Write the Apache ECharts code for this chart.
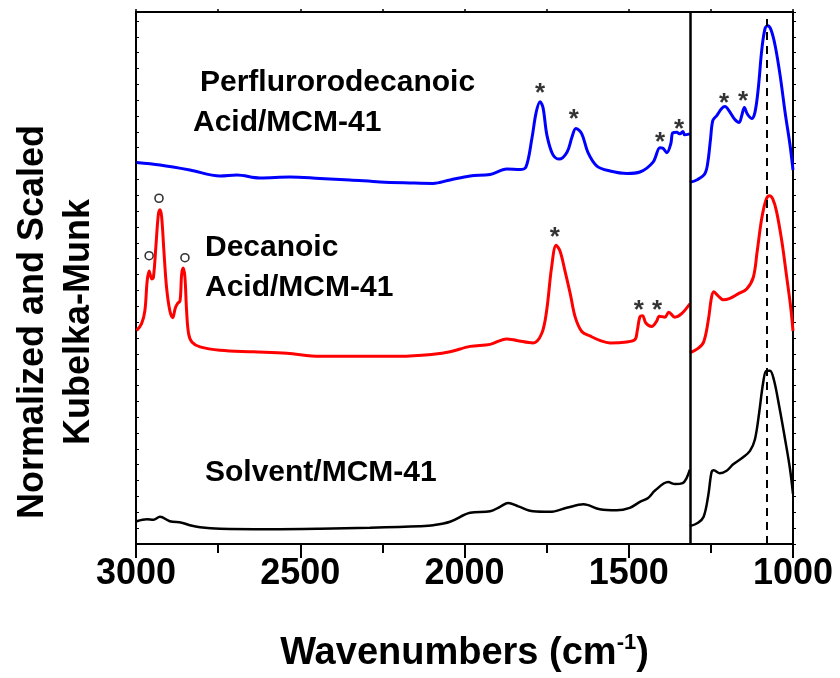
<!DOCTYPE html>
<html>
<head>
<meta charset="utf-8">
<script src="https://cdn.jsdelivr.net/npm/echarts@6/dist/echarts.min.js"></script>
<style>
  html, body { margin: 0; padding: 0; background: #fff; }
  #chart { width: 840px; height: 678px; }
</style>
</head>
<body>
<div id="chart"></div>
<script>
// wavenumber (cm-1), normalized + scaled Kubelka-Munk (arbitrary units)
// left panel 3000-1314, right panel 1314-1000 (scaled separately)
const perfluoroLeft = [[2998,77.0],[2927,76.5],[2836,75.5],[2744,74.3],[2693,74.5],[2623,73.9],[2531,74.1],[2440,73.8],[2349,73.5],[2257,73.1],[2166,72.9],[2096,72.8],[2044,73.5],[1983,74.3],[1922,74.6],[1871,75.7],[1831,75.6],[1813,76.1],[1795,81.8],[1782,87.1],[1770,89.3],[1761,88.1],[1749,82.5],[1731,78.6],[1712,77.7],[1688,79.1],[1673,82.1],[1661,83.9],[1643,82.8],[1624,79.0],[1597,76.3],[1557,75.3],[1505,74.8],[1466,75.1],[1426,77.1],[1405,80.0],[1396,79.9],[1384,79.0],[1372,80.8],[1366,83.0],[1354,83.1],[1344,82.8],[1335,83.3],[1330,82.6],[1314,82.8]];
const perfluoroRight = [[1314,73.0],[1290,73.6],[1268,74.8],[1259,77.2],[1251,81.8],[1244,85.5],[1232,86.5],[1217,87.9],[1207,88.3],[1195,87.5],[1177,85.7],[1164,85.1],[1156,86.5],[1148,88.1],[1139,86.8],[1126,85.9],[1116,87.1],[1106,91.8],[1095,99.8],[1085,104.1],[1077,104.6],[1067,103.8],[1054,100.5],[1039,94.5],[1024,87.1],[1009,80.5],[1000,75.5]];

const decanoicLeft = [[2998,43.1],[2983,44.5],[2973,47.1],[2966,53.1],[2960,55.1],[2952,53.5],[2947,53.8],[2939,60.5],[2932,66.5],[2927,67.5],[2922,66.1],[2915,59.1],[2907,51.8],[2897,47.1],[2888,45.7],[2881,47.5],[2874,48.5],[2866,49.1],[2861,54.5],[2856,55.7],[2851,53.8],[2846,47.1],[2840,42.5],[2830,40.8],[2805,39.8],[2744,39.1],[2643,38.8],[2541,38.5],[2440,37.9],[2196,37.9],[2095,38.3],[2044,38.8],[1983,39.9],[1922,40.3],[1872,41.4],[1841,41.1],[1791,40.6],[1765,42.5],[1750,47.1],[1735,55.8],[1721,60.3],[1709,59.1],[1694,55.1],[1678,50.5],[1663,45.8],[1643,42.9],[1618,42.0],[1588,41.1],[1557,40.6],[1506,40.8],[1481,41.3],[1474,43.1],[1466,45.9],[1458,46.1],[1448,44.6],[1430,43.9],[1415,45.0],[1407,46.0],[1390,45.8],[1378,46.8],[1360,45.8],[1339,46.5],[1314,48.5]];
const decanoicRight = [[1314,38.6],[1289,39.5],[1272,40.8],[1258,45.1],[1248,49.8],[1241,50.9],[1228,50.1],[1212,49.3],[1192,49.6],[1167,50.5],[1141,51.5],[1121,53.8],[1109,59.1],[1095,65.8],[1082,69.5],[1072,70.3],[1062,69.7],[1050,67.1],[1034,61.1],[1019,53.8],[1007,47.8],[1000,43.0]];

const solventLeft = [[2998,4.6],[2967,5.0],[2947,4.9],[2927,5.5],[2897,4.6],[2861,4.3],[2836,3.8],[2805,3.4],[2744,3.1],[2592,3.0],[2440,3.1],[2288,3.3],[2136,3.6],[2095,3.8],[2044,4.5],[1983,6.3],[1922,6.6],[1892,7.5],[1867,8.3],[1836,7.6],[1791,6.6],[1740,6.5],[1689,7.3],[1638,8.0],[1588,7.0],[1537,6.8],[1497,7.3],[1466,8.5],[1441,9.3],[1420,10.8],[1380,12.5],[1359,12.1],[1336,12.3],[1324,13.3],[1314,15.0]];
const solventRight = [[1314,3.6],[1289,4.3],[1272,5.5],[1258,9.8],[1248,14.5],[1241,14.9],[1223,14.3],[1202,14.8],[1182,16.1],[1152,17.5],[1131,18.8],[1116,21.1],[1103,26.5],[1091,32.5],[1081,35.0],[1070,35.0],[1058,33.1],[1042,27.8],[1024,21.1],[1009,15.1],[1000,10.1]];

// peak markers
const starMarks = [[1770,92.0],[1667,86.8],[1405,82.2],[1347,84.8],[1210,90.0],[1152,90.4],[1725,63.0],[1469,48.2],[1414,48.2]];
const circleMarks = [[2960,58.2],[2930,69.8],[2851,57.8]];

const breakWn = 1314;
const siPeakWn = 1081;
const xTicks = [3000, 2500, 2000, 1500, 1000];

const FONT = '"Liberation Sans", Arial, sans-serif';
const chart = echarts.init(document.getElementById('chart'));

function curve(data, color, width) {
  return {
    type: 'line', data: data, smooth: 0.35, symbol: 'none', silent: true,
    xAxisIndex: 0, yAxisIndex: 0,
    lineStyle: { color: color, width: width }
  };
}

const blueL = curve(perfluoroLeft, '#0000ff', 3);
blueL.markLine = {
  silent: true, symbol: 'none', label: { show: false },
  data: [
    { xAxis: breakWn, lineStyle: { color: '#000', width: 2.5, type: 'solid' } },
    [{ coord: [siPeakWn, 0], lineStyle: { color: '#000', width: 2, type: [8, 6] } }, { coord: [siPeakWn, 106] }]
  ]
};

chart.setOption({
  animation: false,
  grid: { left: 136, right: 47, top: 12, bottom: 129 },
  xAxis: [{
    type: 'value', min: 1000, max: 3000, inverse: true, interval: 500,
    name: 'Wavenumbers (cm{sup|-1})', nameLocation: 'middle', nameGap: 88,
    nameTextStyle: { fontFamily: FONT, fontSize: 38, fontWeight: 'bold', color: '#000',
      rich: { sup: { fontFamily: FONT, fontSize: 22, fontWeight: 'bold', color: '#000', verticalAlign: 'top', padding: [0, 0, 22, 0] } } },
    axisLine: { onZero: false, lineStyle: { color: '#000', width: 2 } },
    axisTick: { length: 14, lineStyle: { color: '#000', width: 2 } },
    minorTick: { show: true, splitNumber: 2, length: 9, lineStyle: { color: '#000', width: 2 } },
    axisLabel: { fontFamily: FONT, fontSize: 36, fontWeight: 'bold', color: '#000', margin: 12,
      customValues: xTicks, formatter: v => String(v) },
    splitLine: { show: false }
  }, {
    type: 'value', position: 'top', min: 1000, max: 3000, inverse: true, interval: 250,
    axisLine: { onZero: false, lineStyle: { color: '#000', width: 2 } },
    axisTick: { length: 3, lineStyle: { color: '#000', width: 1.5 } },
    axisLabel: { show: false }, splitLine: { show: false }
  }],
  yAxis: [{
    type: 'value', min: 0, max: 107.4, interval: 3.2,
    axisLine: { show: true, onZero: false, lineStyle: { color: '#000', width: 2 } },
    axisTick: { show: true, inside: true, length: 3, lineStyle: { color: '#000', width: 1 } },
    axisLabel: { show: false }, splitLine: { show: false }
  }, {
    type: 'value', position: 'right', min: 0, max: 107.4, interval: 3.2,
    axisLine: { show: true, onZero: false, lineStyle: { color: '#000', width: 2 } },
    axisTick: { show: true, inside: false, length: 3, lineStyle: { color: '#000', width: 1 } },
    axisLabel: { show: false }, splitLine: { show: false }
  }],
  series: [
    curve(solventLeft, '#000', 2.5),
    curve(solventRight, '#000', 2.5),
    curve(decanoicLeft, '#ff0000', 3),
    curve(decanoicRight, '#ff0000', 3),
    blueL,
    curve(perfluoroRight, '#0000ff', 3),
    {
      type: 'scatter', data: starMarks, symbolSize: 0, silent: true,
      label: { show: true, position: 'inside', formatter: '*', fontFamily: FONT, fontSize: 26, fontWeight: 'bold', color: '#000', offset: [0, 6] }
    },
    {
      type: 'scatter', data: circleMarks, symbol: 'circle', symbolSize: 8, silent: true,
      itemStyle: { color: '#fff', borderColor: '#000', borderWidth: 1.6 }
    }
  ],
  graphic: [
    { type: 'text', x: 33, y: 322, rotation: Math.PI / 2, silent: true,
      style: { text: 'Normalized and Scaled', font: 'bold 36px ' + FONT, fill: '#000', align: 'center', verticalAlign: 'middle', textAlign: 'center', textVerticalAlign: 'middle' } },
    { type: 'text', x: 79, y: 322, rotation: Math.PI / 2, silent: true,
      style: { text: 'Kubelka-Munk', font: 'bold 36px ' + FONT, fill: '#000', align: 'center', verticalAlign: 'middle', textAlign: 'center', textVerticalAlign: 'middle' } },
    { type: 'text', x: 200, y: 83, silent: true,
      style: { text: 'Perflurorodecanoic', font: 'bold 30px ' + FONT, fill: '#000', align: 'left', verticalAlign: 'middle', textAlign: 'left', textVerticalAlign: 'middle' } },
    { type: 'text', x: 193, y: 123, silent: true,
      style: { text: 'Acid/MCM-41', font: 'bold 30px ' + FONT, fill: '#000', align: 'left', verticalAlign: 'middle', textAlign: 'left', textVerticalAlign: 'middle' } },
    { type: 'text', x: 205, y: 248, silent: true,
      style: { text: 'Decanoic', font: 'bold 30px ' + FONT, fill: '#000', align: 'left', verticalAlign: 'middle', textAlign: 'left', textVerticalAlign: 'middle' } },
    { type: 'text', x: 205, y: 288, silent: true,
      style: { text: 'Acid/MCM-41', font: 'bold 30px ' + FONT, fill: '#000', align: 'left', verticalAlign: 'middle', textAlign: 'left', textVerticalAlign: 'middle' } },
    { type: 'text', x: 205, y: 473, silent: true,
      style: { text: 'Solvent/MCM-41', font: 'bold 30px ' + FONT, fill: '#000', align: 'left', verticalAlign: 'middle', textAlign: 'left', textVerticalAlign: 'middle' } }
  ]
});
</script>
</body>
</html>
